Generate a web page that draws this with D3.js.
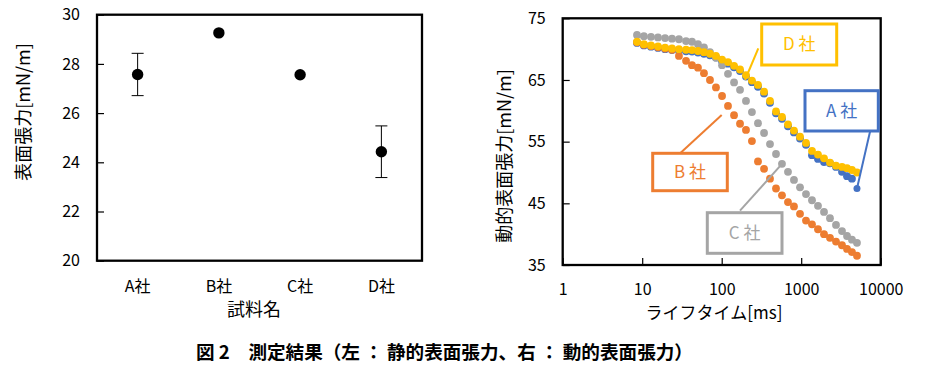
<!DOCTYPE html>
<html>
<head>
<meta charset="utf-8">
<script src="https://cdn.jsdelivr.net/npm/d3@7"></script>
<style>
  body { margin: 0; background: #fff; }
  svg text { font-family: "Noto Sans CJK JP", "Noto Sans", sans-serif; }
</style>
</head>
<body>
<div id="chart"></div>
<script>
// --- left chart: static surface tension
const categories = ["A社", "B社", "C社", "D社"];
const staticMeans = [27.57, 29.26, 27.56, 24.43];
const staticErrors = [0.86, 0, 0, 1.05];
const staticTicks = [20, 22, 24, 26, 28, 30];

// --- right chart: dynamic surface tension vs bubble lifetime [ms]
const lifetimes = [8.6, 10.5, 12.9, 15.8, 19.4, 23.7, 29.0, 35.6, 42.3, 50.3, 59.8, 71.2, 84.7,
    101, 120, 143, 170, 202, 240, 286, 341, 405, 482, 573, 682, 811, 966, 1149, 1367, 1626,
    1936, 2302, 2740, 3260, 3770, 4350, 5030];
const seriesA = [71.0, 70.6, 70.4, 70.2, 70.0, 69.85, 69.75, 69.65, 69.6, 69.45, 69.25, 69.0, 68.65,
    68.05, 67.65, 67.05, 66.45, 65.55, 64.65, 63.9, 62.8, 61.3, 59.6, 58.7, 57.5, 56.5, 55.5, 54.5,
    52.8, 52.2, 51.7, 51.5, 50.9, 50.1, 49.4, 49.0, 47.4];
const seriesB = [71.1, 70.7, 70.5, 70.3, 70.1, 69.9, 68.9, 68.1, 67.4, 67.0, 66.1, 65.0, 63.8,
    62.4, 60.8, 59.3, 57.9, 56.9, 55.1, 51.8, 50.6, 49.0, 47.4, 46.3, 45.2, 44.5, 43.3, 42.2,
    41.6, 40.8, 40.0, 39.4, 38.8, 38.2, 37.6, 37.1, 36.5];
const seriesC = [72.3, 72.1, 72.0, 71.9, 71.8, 71.7, 71.6, 71.3, 71.2, 70.8, 70.3, 69.5, 68.6,
    67.4, 66.0, 64.6, 63.4, 61.6, 59.8, 58.0, 56.4, 54.6, 53.0, 51.4, 50.1, 48.8, 47.6, 46.5,
    45.5, 44.6, 43.6, 42.6, 41.5, 40.5, 39.7, 39.1, 38.6];
const seriesD = [71.2, 70.8, 70.6, 70.45, 70.25, 70.1, 70.0, 69.9, 69.85, 69.7, 69.5, 69.25, 68.9,
    68.3, 67.9, 67.3, 66.7, 65.8, 64.9, 64.2, 63.1, 61.6, 59.9, 59.0, 57.8, 56.8, 55.8, 54.8,
    53.5, 52.9, 52.3, 51.6, 51.1, 50.9, 50.7, 50.4, 50.0];
const seriesNames = ["A 社", "B 社", "C 社", "D 社"];
const seriesColors = ["#4472C4", "#ED7D31", "#A5A5A5", "#FFC000"];
const lifetimeTicks = [1, 10, 100, 1000, 10000];
const dynamicTicks = [35, 45, 55, 65, 75];

const svg = d3.select("#chart").append("svg")
    .attr("width", 941)
    .attr("height", 375);

// ================= left =================
const xL = d3.scaleBand().domain(categories).range([97, 422]);
const yL = d3.scaleLinear().domain([20, 30]).range([260.7, 14.7]);

const left = svg.append("g");

left.append("g")
    .attr("transform", "translate(97,0)")
    .call(d3.axisLeft(yL).tickValues(staticTicks).tickSize(-7).tickPadding(17))
    .call(g => g.select(".domain").remove())
    .call(g => g.selectAll("line").attr("stroke", "#000").attr("stroke-width", 1.2))
    .call(g => g.selectAll("text").attr("font-size", 16).attr("fill", "#000"));

left.append("g")
    .attr("transform", "translate(0,260.7)")
    .call(d3.axisBottom(xL).tickSize(0))
    .call(g => g.select(".domain").remove())
    .call(g => g.selectAll("text").attr("font-size", 16).attr("fill", "#000")
        .attr("y", 26).attr("dy", "0.35em"));

left.append("rect")
    .attr("x", 97).attr("y", 14.7)
    .attr("width", 325).attr("height", 246)
    .attr("fill", "none").attr("stroke", "#000").attr("stroke-width", 2.3);

const cx = d => xL(d) + xL.bandwidth() / 2;
const errs = left.selectAll(".err")
    .data(categories.map((c, i) => ({ c, m: staticMeans[i], e: staticErrors[i] })).filter(d => d.e > 0))
    .join("g");
errs.append("line")
    .attr("x1", d => cx(d.c)).attr("x2", d => cx(d.c))
    .attr("y1", d => yL(d.m + d.e)).attr("y2", d => yL(d.m - d.e))
    .attr("stroke", "#000");
[1, -1].forEach(s => {
    errs.append("line")
        .attr("x1", d => cx(d.c) - 6).attr("x2", d => cx(d.c) + 6)
        .attr("y1", d => yL(d.m + s * d.e)).attr("y2", d => yL(d.m + s * d.e))
        .attr("stroke", "#000");
});

left.selectAll(".dot")
    .data(categories)
    .join("circle")
    .attr("cx", d => cx(d))
    .attr("cy", (d, i) => yL(staticMeans[i]))
    .attr("r", 5.7)
    .attr("fill", "#000");

left.append("text")
    .attr("transform", "translate(24,112) rotate(-90)")
    .attr("text-anchor", "middle").attr("dy", "0.35em")
    .attr("font-size", 18).attr("fill", "#000")
    .text("表面張力[mN/m]");

left.append("text")
    .attr("x", 254).attr("y", 310).attr("dy", "0.35em")
    .attr("text-anchor", "middle")
    .attr("font-size", 18).attr("fill", "#000")
    .text("試料名");

// ================= right =================
const xR = d3.scaleLog().domain([1, 10000]).range([562.7, 880.7]);
const yR = d3.scaleLinear().domain([35, 75]).range([265, 18.3]);

const right = svg.append("g");

right.append("g")
    .attr("transform", "translate(562.7,0)")
    .call(d3.axisLeft(yR).tickValues(dynamicTicks).tickSize(-7).tickPadding(17))
    .call(g => g.select(".domain").remove())
    .call(g => g.selectAll("line").attr("stroke", "#000").attr("stroke-width", 1.2))
    .call(g => g.selectAll("text").attr("font-size", 16).attr("fill", "#000"));

right.append("g")
    .attr("transform", "translate(0,265)")
    .call(d3.axisBottom(xR).tickValues(lifetimeTicks).tickFormat(d3.format("d")).tickSize(-7))
    .call(g => g.select(".domain").remove())
    .call(g => g.selectAll("line").attr("stroke", "#000").attr("stroke-width", 1.2))
    .call(g => g.selectAll("text").attr("font-size", 16).attr("fill", "#000")
        .attr("y", 24).attr("dy", "0.35em"));

right.append("rect")
    .attr("x", 562.7).attr("y", 18.3)
    .attr("width", 318).attr("height", 246.7)
    .attr("fill", "none").attr("stroke", "#000").attr("stroke-width", 2.3);

const allSeries = [seriesA, seriesB, seriesC, seriesD];
allSeries.forEach((vals, k) => {
    right.append("g")
        .selectAll("circle")
        .data(vals.map((v, i) => ({ t: lifetimes[i], v })))
        .join("circle")
        .attr("cx", d => xR(d.t))
        .attr("cy", d => yR(d.v))
        .attr("r", (d, i) => (k === 0 && i === vals.length - 1) ? 3.5 : 3.9)
        .attr("fill", seriesColors[k]);
});

right.append("text")
    .attr("transform", "translate(505,156) rotate(-90)")
    .attr("text-anchor", "middle").attr("dy", "0.35em")
    .attr("font-size", 18).attr("fill", "#000")
    .text("動的表面張力[mN/m]");

right.append("text")
    .attr("x", 714).attr("y", 313).attr("dy", "0.35em")
    .attr("text-anchor", "middle")
    .attr("font-size", 17).attr("fill", "#000")
    .text("ライフタイム[ms]");

// callouts: box, label and leader line
const lastA = seriesA.length - 1;
const callouts = [
    { k: 0, box: [805, 90.7, 73.3, 40.3], line: [870, 131.7, xR(lifetimes[lastA]), yR(seriesA[lastA])] },
    { k: 1, box: [652.7, 153.3, 74.6, 37.4], line: [680.7, 152.7, 721.7, 115] },
    { k: 2, box: [707.3, 212.7, 74.7, 40.6], line: [740, 210.7, xR(lifetimes[23]), yR(seriesC[23])] },
    { k: 3, box: [761.7, 24, 75, 41], line: [758.3, 48.3, 745, 80] }
];
callouts.forEach(c => {
    const col = seriesColors[c.k];
    right.append("line")
        .attr("x1", c.line[0]).attr("y1", c.line[1])
        .attr("x2", c.line[2]).attr("y2", c.line[3])
        .attr("stroke", col).attr("stroke-width", 2);
    right.append("rect")
        .attr("x", c.box[0]).attr("y", c.box[1])
        .attr("width", c.box[2]).attr("height", c.box[3])
        .attr("fill", "#fff").attr("stroke", col).attr("stroke-width", 3);
    right.append("text")
        .attr("x", c.box[0] + c.box[2] / 2).attr("y", c.box[1] + c.box[3] / 2)
        .attr("dy", "0.35em").attr("text-anchor", "middle")
        .attr("font-size", 17).attr("fill", col)
        .text(seriesNames[c.k]);
});

// caption
svg.append("text")
    .attr("x", 196).attr("y", 352).attr("dy", "0.35em")
    .attr("font-size", 18.6).attr("font-weight", "bold").attr("fill", "#000")
    .attr("xml:space", "preserve")
    .style("white-space", "pre")
    .text("図 2　測定結果（左 ： 静的表面張力、右 ： 動的表面張力）");
</script>
</body>
</html>
